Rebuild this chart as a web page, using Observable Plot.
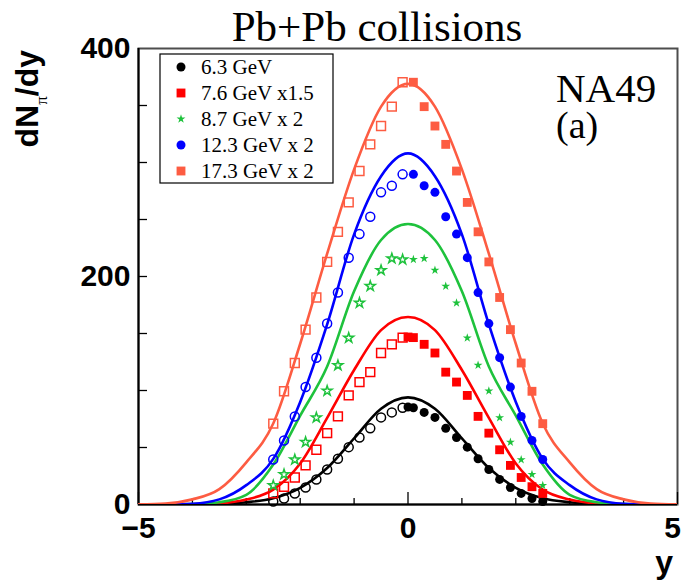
<!DOCTYPE html>
<html><head><meta charset="utf-8">
<script src="https://cdn.jsdelivr.net/npm/d3@7"></script>
<script src="https://cdn.jsdelivr.net/npm/@observablehq/plot@0.6"></script>
<style>html,body{margin:0;padding:0;background:#fff}</style>
</head><body><div id="chart"></div>
<script>
// ---- data ----
const seriesNames = ["6.3 GeV", "7.6 GeV x1.5", "8.7 GeV x 2", "12.3 GeV x 2", "17.3 GeV x 2"];
const seriesColors = ["#000000", "#ff0000", "#1ec23c", "#0000ff", "#fd5c42"];
const seriesSymbols = ["circle", "square", "star", "circle", "square"];

// rapidity bins of the measured (filled) points, y >= 0
const yBins = [0.1, 0.3, 0.5, 0.7, 0.9, 1.1, 1.3, 1.5, 1.7, 1.9, 2.1, 2.3, 2.5];
const yBinsWith0 = [0.0, 0.1, 0.3, 0.5, 0.7, 0.9, 1.1, 1.3, 1.5, 1.7, 1.9, 2.1, 2.3, 2.5];

const val63  = [85.5, 84.9, 80.8, 76.4, 66.8, 58.8, 50.3, 40.1, 30.7, 22.0, 14.9, 9.7, 5.3, 2.6];
const val76  = [146.9, 146.4, 140.5, 132.9, 116.1, 107.4, 95.7, 77.3, 62.6, 48.0, 34.3, 23.7, 15.6, 9.7];
const val87  = [214.9, 215.8, 205.5, 191.5, 176.8, 146.1, 122.1, 99.7, 76.2, 54.7, 39.3, 26.4, 16.7];
const val123 = [289.6, 279.6, 273.8, 252.4, 237.2, 216.5, 185.9, 158.7, 128.8, 103.0, 77.3, 56.2, 39.5];
const val173 = [370.4, 349.0, 332.0, 315.9, 292.5, 265.0, 239.2, 212.8, 181.6, 153.4, 124.1, 99.3, 70.9];

// model curves
const curveY = [-5, -4.5, -4, -3.5, -3, -2.5, -2, -1.5, -1, -0.5, 0, 0.5, 1, 1.5, 2, 2.5, 3, 3.5, 4, 4.5, 5];
const curve63  = [0, 0, 0.1, 0.6, 2, 5.5, 14.6, 32, 58, 84, 94, 84, 58, 32, 14.6, 5.5, 2, 0.6, 0.1, 0, 0];
const curve76  = [0, 0, 0.2, 1, 4.3, 13, 36, 76, 118, 153, 164.5, 153, 118, 76, 36, 13, 4.3, 1, 0.2, 0, 0];
const curve87  = [0, 0, 0.3, 2, 8.5, 35, 78, 121, 187, 232, 246, 232, 187, 121, 78, 35, 8.5, 2, 0.3, 0, 0];
const curve123 = [0, 0.1, 0.7, 4.5, 17, 40, 90, 158, 237, 288, 308, 288, 237, 158, 90, 40, 17, 4.5, 0.7, 0.1, 0];
const curve173 = [0.1, 0.8, 4.5, 13.5, 37, 71, 141, 220, 294, 349, 369, 349, 294, 220, 141, 71, 37, 13.5, 4.5, 0.8, 0.1];

const xTicksMajor = [-5, 0, 5];
const xTicksMinor = [-4, -3, -2, -1, 1, 2, 3, 4];
const yTicksMajor = [0, 200, 400];
const yTicksAll = [50, 100, 150, 200, 250, 300, 350];

// ---- tables ----
const filledY = [yBinsWith0, yBinsWith0, yBins, yBins, yBins];
const filledV = [val63, val76, val87, val123, val173];
const curves = [curve63, curve76, curve87, curve123, curve173];
const symR = {circle: 4.5, square: 5, star: 2.8};
const noLabel = () => "";

const marks = [
  Plot.frame({stroke: "#4d4d4d", strokeWidth: 2}),
  Plot.axisX(xTicksMinor, {anchor: "bottom", tickSize: -6, tickFormat: noLabel, label: null, strokeWidth: 1.3}),
  Plot.axisX(xTicksMajor, {anchor: "bottom", tickSize: -12, tickFormat: noLabel, label: null, strokeWidth: 1.3}),
  Plot.axisX(xTicksMajor.slice(0, 2), {anchor: "bottom", tickSize: 0, tickPadding: 12, fontSize: 30, fontWeight: "bold", label: null}),
  Plot.axisX(xTicksMajor.slice(2), {anchor: "bottom", tickSize: 0, tickPadding: 12, fontSize: 30, fontWeight: "bold", label: null, dx: -5}),
  Plot.axisY(yTicksAll, {anchor: "left", tickSize: -9, tickFormat: noLabel, label: null, strokeWidth: 1.3}),
  Plot.axisY(yTicksMajor, {anchor: "left", tickSize: 0, tickPadding: 8, fontSize: 30, fontWeight: "bold", label: null}),
  Plot.ruleX([-5], {stroke: "black", strokeWidth: 2}),
  Plot.ruleY([0], {stroke: "black", strokeWidth: 2})
];

curves.forEach((c, i) => {
  const rows = curveY.map((y, k) => ({y, v: c[k]}));
  marks.push(Plot.line(rows, {x: "y", y: "v", stroke: seriesColors[i], strokeWidth: 2.6, curve: "monotone-x", clip: true}));
});

filledV.forEach((vals, i) => {
  const ys = filledY[i];
  const filled = ys.map((y, k) => ({y, v: vals[k]}));
  const open = ys.map((y, k) => ({y: -y, v: vals[k]})).filter(d => d.y < 0);
  const sym = seriesSymbols[i];
  marks.push(Plot.dot(open, {x: "y", y: "v", symbol: sym, r: symR[sym] * (sym === "star" ? 1.1 : 1), stroke: seriesColors[i], strokeWidth: 1.5, fill: "none"}));
  marks.push(Plot.dot(filled, {x: "y", y: "v", symbol: sym, r: symR[sym], fill: seriesColors[i], stroke: "none"}));
});

const svg = Plot.plot({
  width: 682, height: 581,
  marginLeft: 138, marginRight: 5, marginTop: 48, marginBottom: 77,
  x: {domain: [-5, 5], label: null},
  y: {domain: [0, 400], label: null},
  style: {background: "white", color: "black", fontFamily: "'Liberation Sans', Arial, sans-serif", overflow: "visible"},
  marks
});
document.getElementById("chart").appendChild(svg);

// ---- annotations ----
const s = d3.select(svg);
const serif = "'Liberation Serif', 'Times New Roman', serif";
const sans = "'Liberation Sans', Arial, sans-serif";

s.append("text").attr("x", 377).attr("y", 41).attr("text-anchor", "middle")
  .attr("font-family", serif).attr("font-size", 43).attr("fill", "black").text("Pb+Pb collisions");

s.append("text").attr("x", 556).attr("y", 102).attr("text-anchor", "start").attr("font-family", serif).attr("font-size", 41).attr("fill", "black").text("NA49");
s.append("text").attr("x", 556).attr("y", 138).attr("text-anchor", "start").attr("font-family", serif).attr("font-size", 38).attr("fill", "black").text("(a)");

// y axis title
const yt = s.append("text").attr("transform", "translate(38,50) rotate(-90)").attr("text-anchor", "end")
  .attr("font-family", sans).attr("font-weight", "bold").attr("font-size", 32).attr("fill", "black");
yt.append("tspan").text("dN");
yt.append("tspan").attr("font-family", serif).attr("font-weight", "normal").attr("font-size", 17).attr("dy", 9).text("π");
yt.append("tspan").attr("dy", -9).text("/dy");

// x axis title
s.append("text").attr("x", 673).attr("y", 573).attr("text-anchor", "end")
  .attr("font-family", sans).attr("font-weight", "bold").attr("font-size", 32).attr("fill", "black").text("y");

// legend
const lg = s.append("g");
lg.append("rect").attr("x", 160).attr("y", 54).attr("width", 173).attr("height", 129)
  .attr("fill", "white").attr("stroke", "black").attr("stroke-width", 1.2);
const rowY = [67, 93, 119, 145, 171];
seriesNames.forEach((name, i) => {
  const sym = seriesSymbols[i];
  const r = symR[sym];
  const t = sym === "circle" ? d3.symbolCircle : sym === "square" ? d3.symbolSquare : d3.symbolStar;
  lg.append("path").attr("transform", `translate(181,${rowY[i]})`)
    .attr("d", d3.symbol(t, Math.PI * r * r)()).attr("fill", seriesColors[i]);
  lg.append("text").attr("x", 201).attr("y", rowY[i]).attr("dy", "0.35em").attr("text-anchor", "start")
    .attr("font-family", serif).attr("font-size", 21).attr("fill", "black").text(name);
});
</script>
</body></html>
